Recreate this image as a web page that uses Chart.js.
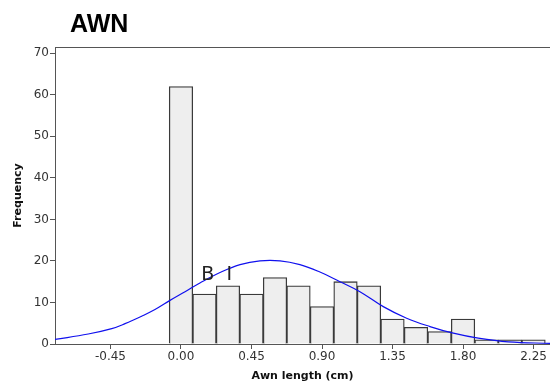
<!DOCTYPE html>
<html>
<head>
<meta charset="utf-8">
<script src="https://cdn.jsdelivr.net/npm/chart.js@4/dist/chart.umd.min.js"></script>
<style>
  html, body { margin: 0; padding: 0; background: #fff; }
  #wrap { width: 550px; height: 385px; position: relative; }
</style>
</head>
<body>
<div id="wrap"><canvas id="histChart"></canvas></div>
<script>
// Histogram bins (centre of each 0.15 cm bin) and counts
const binCentres = [0.00, 0.15, 0.30, 0.45, 0.60, 0.75, 0.90, 1.05, 1.20, 1.35, 1.50, 1.65, 1.80, 1.95, 2.10, 2.25];
const binCounts  = [62, 12, 14, 12, 16, 14, 9, 15, 14, 6, 4, 3, 6, 1, 1, 1];

// Fitted normal curve
const curveX = [-0.804, -0.592, -0.442, -0.357, -0.251, -0.166, -0.07, 0.026, 0.121, 0.249, 0.377, 0.504, 0.632, 0.759, 0.876, 1.015, 1.142, 1.291, 1.44, 1.589, 1.738, 1.897, 2.09, 2.355];
const curveY = [1.1, 2.4, 3.7, 4.9, 6.7, 8.3, 10.5, 12.6, 14.7, 17.2, 19.1, 20.0, 20.0, 19.1, 17.5, 15.0, 12.6, 9.0, 6.2, 4.2, 2.6, 1.4, 0.5, 0.15];

const xTicks = [-0.45, 0.00, 0.45, 0.90, 1.35, 1.80, 2.25];
const yTicks = [0, 10, 20, 30, 40, 50, 60, 70];

const axisColor = '#555';
const tickFont = { family: 'DejaVu Sans', size: 12 };

const textPlugin = {
    id: 'texts',
    afterDraw(chart) {
        const ctx = chart.ctx;
        const area = chart.chartArea;
        const xs = chart.scales.x, ys = chart.scales.y;
        ctx.save();
        // top frame line
        ctx.strokeStyle = axisColor;
        ctx.lineWidth = 1;
        ctx.beginPath();
        ctx.moveTo(area.left, area.top + 0.5);
        ctx.lineTo(area.right, area.top + 0.5);
        ctx.stroke();

        ctx.fillStyle = '#000';
        ctx.font = 'bold 25px "Liberation Sans"';
        ctx.textAlign = 'left';
        ctx.textBaseline = 'alphabetic';
        ctx.fillText('AWN', 70, 32);

        ctx.fillStyle = '#111';
        ctx.font = 'bold 11px "DejaVu Sans"';
        ctx.textAlign = 'center';
        ctx.textBaseline = 'middle';
        ctx.fillText('Awn length (cm)', (area.left + area.right) / 2, 376);

        ctx.save();
        ctx.translate(18, (area.top + area.bottom) / 2);
        ctx.rotate(-Math.PI / 2);
        ctx.fillText('Frequency', 0, 0);
        ctx.restore();

        ctx.fillStyle = '#222';
        ctx.font = '19px "DejaVu Sans"';
        ctx.textAlign = 'left';
        ctx.textBaseline = 'alphabetic';
        ctx.fillText('B', xs.getPixelForValue(0.13), ys.getPixelForValue(15.3));
        ctx.fillText('I', xs.getPixelForValue(0.29), ys.getPixelForValue(15.3));
        ctx.restore();
    }
};

new Chart(document.getElementById('histChart'), {
    type: 'bar',
    data: {
        datasets: [
            {
                type: 'line',
                data: curveX.map((x, i) => ({ x: x, y: curveY[i] })),
                borderColor: '#1010ee',
                borderWidth: 1.2,
                pointRadius: 0,
                tension: 0.4,
                fill: false,
                order: 0
            },
            {
                type: 'bar',
                data: binCentres.map((x, i) => ({ x: x, y: binCounts[i] })),
                backgroundColor: '#eeeeee',
                borderColor: '#3a3a3a',
                borderWidth: 1.3,
                borderSkipped: 'bottom',
                barPercentage: 1,
                categoryPercentage: 1,
                grouped: false,
                order: 1
            }
        ]
    },
    options: {
        responsive: true,
        maintainAspectRatio: false,
        animation: false,
        layout: { padding: { top: 47, right: 0, left: 0, bottom: 0 } },
        plugins: { legend: { display: false }, tooltip: { enabled: false } },
        scales: {
            x: {
                type: 'linear',
                min: -0.804,
                max: 2.355,
                offset: false,
                afterBuildTicks: s => { s.ticks = xTicks.map(v => ({ value: v })); },
                afterFit: s => { s.height = 41; },
                ticks: {
                    color: '#333',
                    font: tickFont,
                    padding: 1,
                    maxRotation: 0,
                    autoSkip: false,
                    callback: v => Number(v).toFixed(2)
                },
                grid: { offset: false, drawOnChartArea: false, drawTicks: true, tickLength: 5, color: axisColor },
                border: { display: true, color: axisColor }
            },
            y: {
                min: 0,
                max: 71.5,
                afterBuildTicks: s => { s.ticks = yTicks.map(v => ({ value: v })); },
                afterFit: s => { s.width = 55; },
                ticks: { color: '#333', font: tickFont, padding: 1 },
                grid: { drawOnChartArea: false, drawTicks: true, tickLength: 5, color: axisColor },
                border: { display: true, color: axisColor }
            }
        }
    },
    plugins: [textPlugin]
});
</script>
</body>
</html>
